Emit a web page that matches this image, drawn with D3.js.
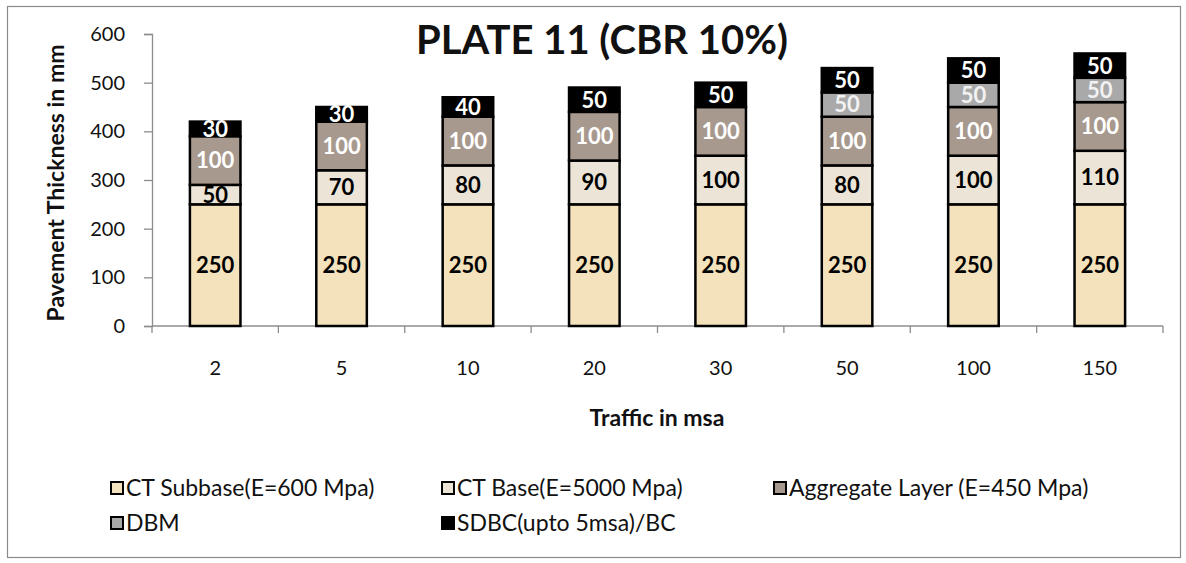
<!DOCTYPE html>
<html><head><meta charset="utf-8">
<script src="https://cdn.jsdelivr.net/npm/d3@7"></script>
<style>
html,body{margin:0;padding:0;background:#fff;}
svg{display:block;font-family:Lato,"Open Sans",sans-serif;}
</style></head>
<body><svg id="chart" width="1186" height="563"></svg>
<script>
const categories = ["2","5","10","20","30","50","100","150"];
const seriesNames = ["CT Subbase(E=600 Mpa)","CT Base(E=5000 Mpa)","Aggregate Layer (E=450 Mpa)","DBM","SDBC(upto 5msa)/BC"];
const subbase   = [250,250,250,250,250,250,250,250];
const ctBase    = [40,70,80,90,100,80,100,110];
const aggregate = [100,100,100,100,100,100,100,100];
const dbm       = [0,0,0,0,0,50,50,50];
const sdbc      = [30,30,40,50,50,50,50,50];
const ctBaseLabels = ["50","70","80","90","100","80","100","110"];
const yTicks = [0,100,200,300,400,500,600];
const titleText = "PLATE 11 (CBR 10%)";
const xTitle = "Traffic in msa";
const yTitle = "Pavement Thickness in mm";

const colors = ["#f3e2bb","#ebe4d7","#a8998e","#a9a9a9","#000000"];
const labelColors = ["#000","#000","#fff","#f2f2f2","#fff"];
const seriesValues = [subbase, ctBase, aggregate, dbm, sdbc];
const seriesLabels = [subbase.map(String), ctBaseLabels, aggregate.map(String), dbm.map(String), sdbc.map(String)];

const svg = d3.select("#chart");
svg.append("rect").attr("x",7.5).attr("y",6.5).attr("width",1173).attr("height",551)
  .attr("fill","#fff").attr("stroke","#8a8a8a").attr("stroke-width",1.2);

const y = d3.scaleLinear().domain([0,600]).range([326,34]);
const x = d3.scaleBand().domain(categories).range([152,1163]).paddingInner(0.6).paddingOuter(0.3);

// axes
const axisColor = "#8c8c8c";
const yAxis = svg.append("g").attr("transform","translate(152,0)")
  .call(d3.axisLeft(y).tickValues(yTicks).tickSize(8).tickPadding(19));
yAxis.select(".domain").attr("stroke",axisColor).attr("stroke-width",1.3);
yAxis.selectAll(".tick line").attr("stroke",axisColor).attr("stroke-width",1.3);
yAxis.selectAll(".tick text").attr("font-size",20).attr("fill","#111").attr("font-family","Lato, sans-serif");

// x axis line & boundary ticks
const step = x.step();
const xStart = 152;
svg.append("line").attr("x1",152).attr("x2",1163).attr("y1",326).attr("y2",326)
  .attr("stroke",axisColor).attr("stroke-width",1.3);
const bounds = d3.range(categories.length+1).map(i => xStart + i*step);
svg.selectAll(".xb").data(bounds).enter().append("line")
  .attr("x1",d=>d).attr("x2",d=>d).attr("y1",326).attr("y2",333)
  .attr("stroke",axisColor).attr("stroke-width",1.3);
svg.selectAll(".xl").data(categories).enter().append("text")
  .attr("x",d=>x(d)+x.bandwidth()/2).attr("y",375)
  .attr("text-anchor","middle").attr("font-size",20).attr("fill","#111").text(d=>d);

// stacked bars
const table = categories.map((c,i)=>{ const o={cat:c}; seriesValues.forEach((s,k)=>o["s"+k]=s[i]); return o; });
const keys = seriesValues.map((s,k)=>"s"+k);
const stacked = d3.stack().keys(keys)(table);
stacked.forEach((layer,k)=>{
  const g = svg.append("g");
  layer.forEach((d,i)=>{
    if (d[1]-d[0] <= 0) return;
    g.append("rect").attr("x",x(categories[i])).attr("width",x.bandwidth())
      .attr("y",y(d[1])).attr("height",y(d[0])-y(d[1]))
      .attr("fill",colors[k]).attr("stroke","#000").attr("stroke-width",2.5);
  });
});
stacked.forEach((layer,k)=>{
  layer.forEach((d,i)=>{
    if (d[1]-d[0] <= 0) return;
    svg.append("text").attr("x",x(categories[i])+x.bandwidth()/2)
      .attr("y",(y(d[0])+y(d[1]))/2).attr("dy","0.36em")
      .attr("text-anchor","middle").attr("font-size",22).attr("font-weight","bold")
      .attr("fill",labelColors[k]).text(seriesLabels[k][i]);
  });
});

// titles
svg.append("text").attr("x",602).attr("y",54).attr("text-anchor","middle")
  .attr("font-size",40).attr("font-weight","bold").attr("fill","#111").text(titleText);
svg.append("text").attr("x",657).attr("y",426).attr("text-anchor","middle")
  .attr("font-size",23).attr("font-weight","bold").attr("fill","#111").text(xTitle);
svg.append("text").attr("transform","translate(64,183) rotate(-90)").attr("text-anchor","middle")
  .attr("font-size",23).attr("font-weight","bold").attr("fill","#111").text(yTitle);

// legend
const legendPos = [[110,488],[441,488],[773,488],[110,523],[441,523]];
seriesNames.forEach((n,k)=>{
  const [lx,ly] = legendPos[k];
  svg.append("rect").attr("x",lx+1).attr("y",ly-6).attr("width",12).attr("height",12)
    .attr("fill",colors[k]).attr("stroke","#000").attr("stroke-width",2);
  svg.append("text").attr("x",lx+16).attr("y",ly).attr("dy","0.36em")
    .attr("font-size",23).attr("fill","#111").text(n);
});
</script></body></html>
